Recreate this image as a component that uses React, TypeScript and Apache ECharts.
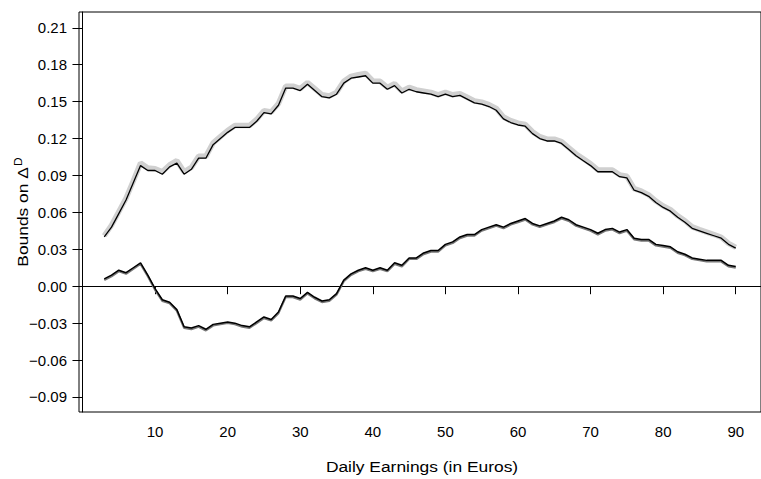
import React, { useEffect, useRef } from "react";
import * as echarts from "echarts";

const earnings = [
  3, 4, 5, 6, 7, 8, 9, 10, 11, 12, 13, 14, 15, 16, 17, 18, 19, 20, 21, 22,
  23, 24, 25, 26, 27, 28, 29, 30, 31, 32, 33, 34, 35, 36, 37, 38, 39, 40, 41, 42,
  43, 44, 45, 46, 47, 48, 49, 50, 51, 52, 53, 54, 55, 56, 57, 58, 59, 60, 61, 62,
  63, 64, 65, 66, 67, 68, 69, 70, 71, 72, 73, 74, 75, 76, 77, 78, 79, 80, 81, 82,
  83, 84, 85, 86, 87, 88, 89, 90,
];

const upper = [
  0.040, 0.048, 0.059, 0.070, 0.084, 0.098, 0.094, 0.094, 0.091, 0.097,
  0.100, 0.091, 0.095, 0.104, 0.104, 0.115, 0.120, 0.125, 0.129, 0.129,
  0.129, 0.134, 0.141, 0.140, 0.147, 0.161, 0.161, 0.159, 0.164, 0.159,
  0.154, 0.153, 0.156, 0.165, 0.169, 0.170, 0.171, 0.165, 0.165, 0.160,
  0.163, 0.157, 0.160, 0.158, 0.157, 0.156, 0.154, 0.156, 0.154, 0.155,
  0.152, 0.149, 0.148, 0.146, 0.143, 0.136, 0.133, 0.131, 0.130, 0.124,
  0.120, 0.118, 0.118, 0.116, 0.111, 0.106, 0.102, 0.098, 0.093, 0.093,
  0.093, 0.089, 0.088, 0.078, 0.076, 0.073, 0.068, 0.064, 0.061, 0.056,
  0.052, 0.047, 0.045, 0.043, 0.041, 0.039, 0.034, 0.031,
];

const upperBand = [
  0.041, 0.0495, 0.0605, 0.0715, 0.0855, 0.1, 0.096, 0.0955, 0.093, 0.0985,
  0.102, 0.093, 0.0965, 0.1055, 0.1055, 0.1165, 0.1215, 0.1265, 0.1305, 0.1305,
  0.1305, 0.1355, 0.1425, 0.1415, 0.1485, 0.1625, 0.1625, 0.1605, 0.1655, 0.1605,
  0.1555, 0.1545, 0.1575, 0.1665, 0.1705, 0.1718, 0.1728, 0.1668, 0.1665, 0.1615,
  0.1645, 0.1585, 0.1615, 0.1595, 0.1585, 0.1575, 0.1555, 0.1575, 0.1555, 0.1565,
  0.1535, 0.1505, 0.1495, 0.1475, 0.1445, 0.1375, 0.1345, 0.1325, 0.1315, 0.1255,
  0.1215, 0.1195, 0.1195, 0.1175, 0.1125, 0.1075, 0.1035, 0.0995, 0.0945, 0.0945,
  0.0945, 0.0905, 0.0893, 0.0793, 0.0772, 0.0742, 0.0692, 0.0652, 0.0622, 0.0572,
  0.0532, 0.0482, 0.046, 0.044, 0.042, 0.0398, 0.0348, 0.0316,
];

const lower = [
  0.006, 0.009, 0.013, 0.011, 0.015, 0.019, 0.009, -0.002, -0.011, -0.013,
  -0.019, -0.033, -0.034, -0.032, -0.035, -0.031, -0.030, -0.029, -0.030, -0.032,
  -0.033, -0.029, -0.025, -0.027, -0.021, -0.008, -0.008, -0.010, -0.005, -0.009,
  -0.012, -0.011, -0.006, 0.005, 0.010, 0.013, 0.015, 0.013, 0.015, 0.013,
  0.019, 0.017, 0.023, 0.023, 0.027, 0.029, 0.029, 0.034, 0.036, 0.040,
  0.042, 0.042, 0.046, 0.048, 0.050, 0.048, 0.051, 0.053, 0.055, 0.051,
  0.049, 0.051, 0.053, 0.056, 0.054, 0.050, 0.048, 0.046, 0.043, 0.046,
  0.047, 0.044, 0.046, 0.039, 0.038, 0.038, 0.034, 0.033, 0.032, 0.028,
  0.026, 0.023, 0.022, 0.021, 0.021, 0.021, 0.017, 0.016,
];

const lowerBand = [
  0.0051, 0.0081, 0.0121, 0.0101, 0.0141, 0.0181, 0.0081, -0.0029, -0.0119, -0.0139,
  -0.0199, -0.0339, -0.0349, -0.0329, -0.0359, -0.0319, -0.0309, -0.0299, -0.0309, -0.0329,
  -0.0339, -0.0299, -0.0259, -0.0279, -0.0219, -0.0089, -0.0089, -0.0109, -0.0059, -0.0099,
  -0.0129, -0.0119, -0.0069, 0.0041, 0.0091, 0.0121, 0.0141, 0.0121, 0.0141, 0.0121,
  0.0181, 0.0161, 0.0221, 0.0221, 0.0261, 0.0281, 0.0281, 0.0331, 0.0351, 0.0391,
  0.0411, 0.0411, 0.0451, 0.0471, 0.0491, 0.0471, 0.0501, 0.0521, 0.0541, 0.0501,
  0.0481, 0.0501, 0.0521, 0.0551, 0.0531, 0.0491, 0.0471, 0.0451, 0.0421, 0.0451,
  0.0461, 0.0431, 0.0451, 0.0381, 0.0371, 0.0371, 0.0331, 0.0321, 0.0311, 0.0271,
  0.0251, 0.0221, 0.0211, 0.0201, 0.0201, 0.0201, 0.0161, 0.0151,
];

const xTicks = [10, 20, 30, 40, 50, 60, 70, 80, 90];
const yTicks = [-0.09, -0.06, -0.03, 0, 0.03, 0.06, 0.09, 0.12, 0.15, 0.18, 0.21];

const FONT = "'Liberation Sans', Arial, Helvetica, sans-serif";

const pairs = (ys: number[]) => earnings.map((x, i) => [x, ys[i]]);

export default function App() {
  const ref = useRef<HTMLDivElement>(null);
  useEffect(() => {
    if (!ref.current) return;
    const chart = echarts.init(ref.current, undefined, { renderer: "svg" });
    const fmtY = (v: number) =>
      (v < -1e-9 ? "\u2212" : "") + Math.abs(v).toFixed(2);
    chart.setOption({
      animation: false,
      backgroundColor: "#ffffff",
      grid: {
        left: 79,
        top: 12,
        width: 687,
        height: 400,
        show: true,
        borderColor: "#000",
        borderWidth: 1,
        backgroundColor: "transparent",
      },
      xAxis: {
        type: "value",
        min: -0.48,
        max: 93.48,
        axisLine: { show: true, lineStyle: { color: "#000", width: 1 } },
        axisTick: {
          show: true,
          length: 8,
          lineStyle: { color: "#000" },
          customValues: xTicks,
        },
        axisLabel: {
          show: true,
          customValues: xTicks,
          color: "#000",
          fontFamily: FONT,
          fontSize: 15,
          margin: 12,
        },
        splitLine: { show: false },
      },
      yAxis: {
        type: "value",
        min: -0.1022,
        max: 0.2228,
        axisLine: { show: true, lineStyle: { color: "#000", width: 1 } },
        axisTick: {
          show: true,
          length: 10,
          lineStyle: { color: "#000" },
          customValues: yTicks,
        },
        axisLabel: {
          show: true,
          customValues: yTicks,
          formatter: fmtY,
          color: "#000",
          fontFamily: FONT,
          fontSize: 15,
          margin: 12,
        },
        splitLine: { show: false },
      },
      graphic: [
        {
          type: "text",
          x: 23,
          y: 212,
          rotation: Math.PI / 2,
          scaleX: 1.2,
          style: {
            text: "{a|Bounds on \u0394}{b|D}",
            align: "center",
            verticalAlign: "middle",
            rich: {
              a: { fontFamily: FONT, fontSize: 14.5, color: "#000" },
              b: {
                fontFamily: FONT,
                fontSize: 10,
                color: "#000",
                padding: [0, 0, 9, 1],
              },
            },
          },
        },
        {
          type: "text",
          x: 422,
          y: 467,
          scaleX: 1.2,
          style: {
            text: "Daily Earnings (in Euros)",
            align: "center",
            verticalAlign: "middle",
            fontFamily: FONT,
            fontSize: 14.5,
            fill: "#000",
          },
        },
      ],
      series: [
        {
          type: "line",
          name: "upperBand",
          data: pairs(upperBand),
          showSymbol: false,
          symbol: "none",
          lineStyle: { color: "#d0d0d0", width: 5.5 },
          z: 1,
          silent: true,
        },
        {
          type: "line",
          name: "upper",
          data: pairs(upper),
          showSymbol: false,
          symbol: "none",
          lineStyle: { color: "#000", width: 1.3 },
          z: 3,
          silent: true,
        },
        {
          type: "line",
          name: "lowerBand",
          data: pairs(lowerBand),
          showSymbol: false,
          symbol: "none",
          lineStyle: { color: "#777", width: 2.2 },
          z: 2,
          silent: true,
        },
        {
          type: "line",
          name: "lower",
          data: pairs(lower),
          showSymbol: false,
          symbol: "none",
          lineStyle: { color: "#000", width: 1.5 },
          z: 3,
          silent: true,
          markLine: {
            silent: true,
            symbol: "none",
            label: { show: false },
            lineStyle: { color: "#ff0000", width: 1.2, type: "solid" },
            data: [{ yAxis: 0 }],
            z: 0,
          },
        },
      ],
    });
    return () => chart.dispose();
  }, []);
  return (
    <div
      ref={ref}
      style={{ position: "fixed", left: 0, top: 0, width: 761, height: 479 }}
    />
  );
}
